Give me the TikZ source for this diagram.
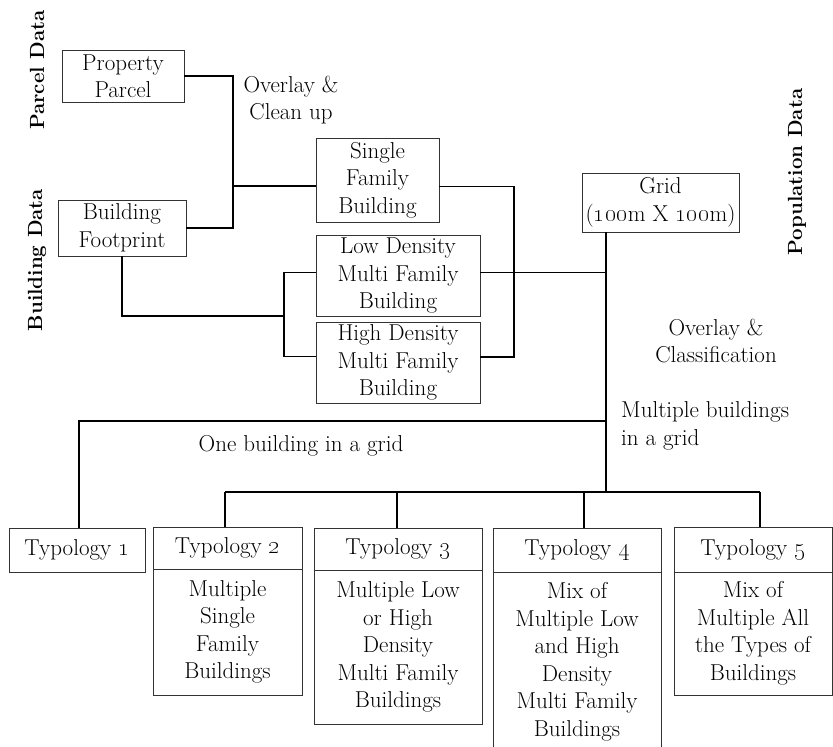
\documentclass[tikz,border=0pt]{standalone}
\usetikzlibrary{positioning}
\newcommand\diagfont{\fontsize{23}{27.5}\selectfont}
\newcommand\sidefont{\fontsize{20.5}{27.5}\selectfont\bfseries}
\newcommand\on[1]{\oldstylenums{#1}}
\tikzset{
  box/.style={draw=black!80, line width=0.9pt, inner sep=0pt, outer sep=0pt, align=center, font=\diagfont},
  link/.style={line width=1.1pt},
  side/.style={rotate=90, font=\sidefont},
  lbl/.style={font=\diagfont, align=center, inner sep=0pt}
}
\begin{document}
\begin{tikzpicture}[x=1pt,y=-1pt]
\useasboundingbox (0,0) rectangle (833,747);
% side titles
\node[side] (pd) at (37,70) {Parcel Data};
\node[side] (bd) at (37,260) {Building Data};
\node[side] (popd) at (797,172) {Population Data};
% input data
\node[box, minimum width=122pt, minimum height=52pt] (pp) at (123,76) {Property\\Parcel};
\node[box, minimum width=128pt, minimum height=56pt] (bf) at (122,228) {Building\\Footprint};
% building types and grid
\node[box, minimum width=123pt, minimum height=84pt] (sf) at (377.5,180) {Single\\Family\\Building};
\node[box, minimum width=164pt, minimum height=81pt] (ld) at (398,275.5) {Low Density\\Multi Family\\Building};
\node[box, minimum width=164pt, minimum height=81pt] (hd) at (398,362.5) {High Density\\Multi Family\\Building};
\node[box, minimum width=157pt, minimum height=59pt] (grid) at (660.5,202.5) {Grid\\(\on{100}m X \on{100}m)};
% typologies
\node[box, minimum width=136pt, minimum height=44pt] (t1) at (77,550) {Typology \on{1}};
\node[box, minimum width=149pt, minimum height=42pt] (t2) at (227.5,548) {Typology \on{2}};
\node[box, minimum width=149pt, minimum height=126pt, below=0pt of t2] (t2b) {Multiple\\Single\\Family\\Buildings};
\node[box, minimum width=168pt, minimum height=42pt] (t3) at (398,549) {Typology \on{3}};
\node[box, minimum width=168pt, minimum height=154pt, below=0pt of t3] (t3b) {Multiple Low\\or High\\Density\\Multi Family\\Buildings};
\node[box, minimum width=168pt, minimum height=44pt] (t4) at (577,550) {Typology \on{4}};
\node[box, minimum width=168pt, minimum height=180pt, below=0pt of t4] (t4b) {Mix of\\Multiple Low\\and High\\Density\\Multi Family\\Buildings};
\node[box, minimum width=158pt, minimum height=45pt] (t5) at (753,549.5) {Typology \on{5}};
\node[box, minimum width=158pt, minimum height=123pt, below=0pt of t5] (t5b) {Mix of\\Multiple All\\the Types of\\Buildings};
% labels
\node[lbl] (oc) at (291,100) {Overlay \&\\Clean up};
\node[lbl] (ocl) at (716,341) {Overlay \&\\Classification};
\node[lbl, align=left, anchor=west] (mb) at (621,426) {Multiple buildings\\in a grid};
\node[lbl] (ob) at (301,446) {One building in a grid};
% connectors
\coordinate (ja) at (233,186);
\draw[link] (pp.east) -| (ja) |- (bf.east);
\draw[link] (ja) -- (ja -| sf.west);
\coordinate (jb) at (284,316);
\draw[link] (bf.south) |- (jb);
\draw[link] (ld.178) -| (jb) |- (hd.176);
\coordinate (jc) at (514,357);
\draw[link] (sf.-6) -| (jc) -- (jc -| hd.east);
\coordinate (jd) at (606,492);
\draw[link] (grid.south -| jd) -- (jd);
\draw[link] (ld.2) -- (ld.2 -| jd);
\coordinate (je) at (606,421);
\draw[link] (je) -| ([xshift=2pt]t1.north);
\draw[link] ([xshift=-2.5pt]t2.north |- jd) -- ([xshift=7pt]t5.north |- jd);
\draw[link] ([xshift=-2.5pt]t2.north |- jd) -- ([xshift=-2.5pt]t2.north);
\draw[link] ([xshift=-1pt]t3.north |- jd) -- ([xshift=-1pt]t3.north);
\draw[link] ([xshift=7pt]t4.north |- jd) -- ([xshift=7pt]t4.north);
\draw[link] ([xshift=7pt]t5.north |- jd) -- ([xshift=7pt]t5.north);
\end{tikzpicture}
\end{document}
